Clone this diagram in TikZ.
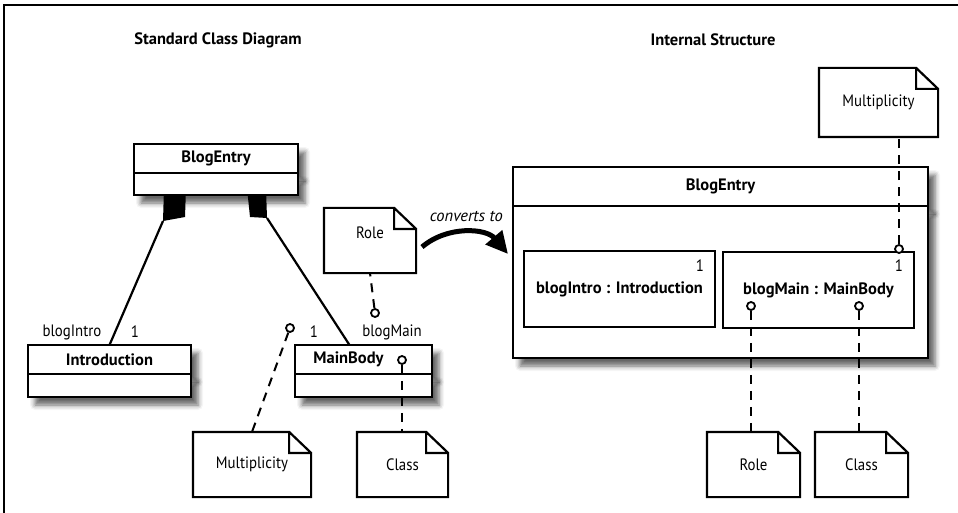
\documentclass[tikz,border=0pt]{standalone}
\usepackage{fontspec}
\setmainfont{PT Sans}[FakeStretch=0.9,BoldFeatures={FakeStretch=1.0},
 ItalicFeatures={FakeStretch=1.0}]
\usetikzlibrary{arrows.meta,positioning,shadows.blur}
\newcommand\figfont{\fontsize{16.5}{18}\selectfont}

\begin{document}
\begin{tikzpicture}[x=1pt,y=-1pt,line width=2.2pt,
 shade/.style={blur shadow={shadow xshift=7pt,shadow yshift=-8pt,
 shadow blur radius=5pt,shadow opacity=60}},
 head/.style={draw,fill=white,inner sep=0pt,outer sep=0pt,minimum width=#1,
 minimum height=29pt,font=\figfont\bfseries,shade},
 body/.style={draw,fill=white,inner sep=0pt,outer sep=0pt,minimum width=#1,
 minimum height=23pt,shade},
 part/.style={draw,fill=white,inner sep=0pt,minimum width=191pt,
 minimum height=76pt,font=\figfont\bfseries},
 note/.style={inner sep=0pt,minimum width=#1,minimum height=63pt,font=\figfont},
 lolli/.style={circle,draw,fill=white,inner sep=0pt,minimum size=8pt,line width=1.8pt},
 tether/.style={line width=2pt,dash pattern=on 9pt off 7pt},
 lbl/.style={inner sep=1pt,font=\figfont},
 ttl/.style={font=\figfont\bfseries}]
\useasboundingbox (0,0) rectangle (958,513);
\draw[line width=1.2pt] (4,513) -- (4,5) -- (958,5);

\node[ttl] (ttlA) at (218,40) {Standard Class Diagram};
\node[ttl] (ttlB) at (713,40) {Internal Structure};

% composition diamonds, half hidden under the class
\coordinate (dmA) at (163,221);
\coordinate (dmB) at (267,218);
\fill (dmA) -- (185,217) -- (186,188) -- (164,188) -- cycle;
\fill (dmB) -- (250,217) -- (247,188) -- (266,188) -- cycle;

% standard class diagram
\node[head=164pt] (entry) at (216,158.5) {BlogEntry};
\node[body=164pt,minimum height=22pt,below=0pt of entry] (entryB) {};
\node[head=163pt] (intro) at (109.5,359.5) {Introduction};
\node[body=163pt,below=0pt of intro] (introB) {};
\node[head=137pt] (mbody) at (363.5,359.5) {MainBody\hspace*{30pt}};
\node[body=137pt,below=0pt of mbody] (mbodyB) {};
\draw (dmA) -- (intro.north);
\draw (dmB) -- ([xshift=-14pt]mbody.north);
\node[lbl] (rnIntro) at (72,332) {blogIntro};
\node[lbl] (mlIntro) at (135,332) {1};
\node[lbl] (mlMain) at (314,332) {1};
\node[lbl] (rnMain) at (392,332) {blogMain};

% internal structure
\node[head=415pt,minimum height=39pt] (whole) at (720.5,186.5) {BlogEntry};
\node[body=415pt,minimum height=152pt,below=0pt of whole] (wholeB) {};
\node[part,label={[lbl,anchor=north east,xshift=-10pt,yshift=-8pt]north east:1}]
 (pIntro) at (619.5,289) {blogIntro : Introduction};
\node[part,label={[lbl,anchor=north east,xshift=-10pt,yshift=-7pt]north east:1}]
 (pMain) at (818.5,290) {blogMain : MainBody};

% conversion arrow
\coordinate (cvA) at (422,247);
\coordinate (cvB) at (508,254);
\draw[line width=5pt,-{Triangle[length=22pt,width=21pt]}] (cvA) to[bend left=45]
 node[midway,above=8pt,lbl,font=\figfont\itshape] (cvLbl) {converts to} (cvB);

% notes
\node[note=90pt] (role) at (370,240.5) {\raisebox{16pt}{Role}};
\node[note=116pt] (multL) at (252,464.5) {Multiplicity};
\node[note=89pt] (classL) at (402.5,464.5) {Class};
\node[note=117pt,minimum height=67pt] (multR) at (878.5,102.5) {Multiplicity};
\node[note=91pt] (roleR) at (753.5,464.5) {Role};
\node[note=91pt] (classR) at (861.5,464.5) {Class};
\foreach \n in {role,multL,classL,multR,roleR,classR}
 \draw (\n.north west) -- ([xshift=-22pt]\n.north east) -- ([yshift=-21pt]\n.north east)
 -- (\n.south east) -- (\n.south west) -- cycle
 ([xshift=-22pt]\n.north east) |- ([yshift=-21pt]\n.north east);

% role, multiplicity and class tethers
\node[lolli] (lpRole) at (375,313) {};
\node[lolli] (lpMultL) at (290,328) {};
\node[lolli] (lpBody) at (402,360) {};
\node[lolli] (lpMultR) at (899,249) {};
\node[lolli] (lpRoleR) at (751,306) {};
\node[lolli] (lpClassR) at (859,306) {};
\draw[tether] (lpRole) -- (role.south);
\draw[tether] (lpMultL) -- (multL.north);
\draw[tether] (lpBody) -- (lpBody |- classL.north);
\draw[tether] (lpMultR) -- (lpMultR |- multR.south);
\draw[tether] (lpRoleR) -- (lpRoleR |- roleR.north);
\draw[tether] (lpClassR) -- (lpClassR |- classR.north);
\end{tikzpicture}
\end{document}
